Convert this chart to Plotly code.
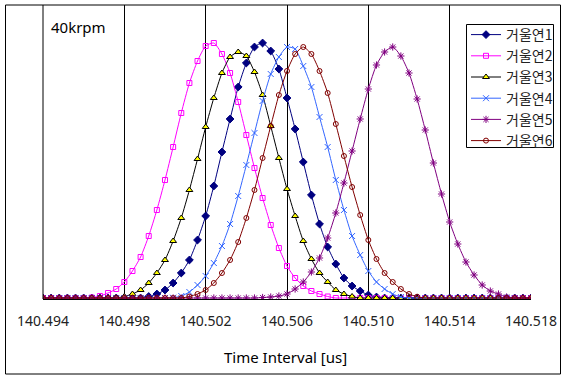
import plotly.graph_objects as go

# x positions (us): 140.494 .. 140.518 in steps of 0.0004
x_start = 140.494
x_step = 0.0004
n_points = 61
time_us = [round(x_start + i * x_step, 4) for i in range(n_points)]

tick_vals = [140.494, 140.498, 140.502, 140.506, 140.510, 140.514, 140.518]
tick_text = ["140.494", "140.498", "140.502", "140.506", "140.510", "140.514", "140.518"]

names = ["거울연1", "거울연2", "거울연3", "거울연4", "거울연5", "거울연6"]

s1 = [0]*13 + [1.5, 4, 8, 15, 25, 38, 58, 82, 112, 146, 179, 211, 235, 251, 255, 247, 229,
               200, 169, 136, 103, 74, 51, 34, 20, 12, 7, 3, 1] + [0]*19
s2 = [0]*6 + [0.5, 2, 5, 9, 16, 27, 41, 62, 88, 118, 151, 185, 215, 237, 252, 255, 244, 225,
              196, 163, 130, 100, 73, 50, 32, 20, 12, 7, 4, 1.5] + [0]*25
s3 = [0]*10 + [1.5, 4, 8, 15, 25, 38, 57, 80, 108, 139, 171, 200, 225, 241, 246, 242, 226, 203,
               172, 140, 109, 82, 57, 39, 25, 16, 8, 4, 1.5] + [0]*22
s4 = [0]*16 + [0.3, 2, 6, 13, 22, 35, 52, 74, 102, 133, 165, 197, 224, 241, 251, 249, 232, 211,
               181, 151, 118, 88, 62, 43, 27, 16, 9, 4, 1] + [0]*16
s5 = [0]*27 + [0.5, 1, 2, 4, 9, 16, 26, 40, 60, 85, 115, 147, 179, 209, 233, 246, 251, 242, 225,
               199, 168, 135, 104, 76, 54, 36, 23, 13, 7, 4, 1] + [0]*3
s6 = [0]*18 + [1.5, 4, 8, 15, 25, 38, 56, 80, 108, 140, 172, 203, 227, 244, 251, 244, 227, 205,
               174, 142, 111, 83, 58, 39, 25, 16, 9, 4, 1.3] + [0]*14
series = [s1, s2, s3, s4, s5, s6]

line_colors = ["#000080", "#FF00FF", "#000000", "#3366FF", "#800080", "#800000"]
marker_symbols = ["diamond", "square-open", "triangle-up", "x-thin-open", "asterisk-open", "circle-open"]
marker_fills = ["#000080", "#FF00FF", "#FFFF00", "#3366FF", "#800080", "#800000"]
marker_lines = ["#000080", "#FF00FF", "#000000", "#3366FF", "#800080", "#800000"]
marker_sizes = [6, 5, 6, 6, 6, 5]

fig = go.Figure()
for k in range(6):
    fig.add_trace(go.Scatter(
        x=time_us, y=series[k], name=names[k], mode="lines+markers",
        line=dict(color=line_colors[k], width=1, shape="spline", smoothing=0.6),
        marker=dict(symbol=marker_symbols[k], size=marker_sizes[k], color=marker_fills[k],
                    line=dict(color=marker_lines[k], width=1)),
    ))

W, H = 567, 380
ml, mr, mt, mb = 43, 36, 5, 81
pw, ph = W - ml - mr, H - mt - mb

def px(xpix):
    return (xpix - ml) / pw

def py(ypix):
    return (H - mb - ypix) / ph

fig.update_layout(
    width=W, height=H,
    margin=dict(l=ml, r=mr, t=mt, b=mb, pad=0),
    paper_bgcolor="white", plot_bgcolor="white",
    font=dict(family="Noto Sans, Noto Sans CJK KR", size=13, color="#222222"),
    showlegend=True,
    legend=dict(x=px(466), y=py(19), xanchor="left", yanchor="top",
                bgcolor="rgba(0,0,0,0)", borderwidth=0,
                font=dict(family="Noto Sans CJK KR", size=14, color="#222222"),
                itemwidth=30, tracegroupgap=0),
    xaxis=dict(range=[140.494, 140.518], tickvals=tick_vals, ticktext=tick_text,
               showgrid=True, gridcolor="black", gridwidth=1,
               showline=True, linecolor="black", linewidth=1,
               ticks="", ticklabelstandoff=9, zeroline=False,
               tickfont=dict(size=14, color="#222222")),
    yaxis=dict(range=[-1, 293], showticklabels=False, showgrid=False,
               zeroline=False, showline=False, ticks=""),
    annotations=[
        dict(text="40krpm", x=px(49), y=py(27), xref="paper", yref="paper",
             xanchor="left", yanchor="middle", showarrow=False,
             font=dict(size=15, color="black")),
        dict(text="Time Interval [us]", x=px(285), y=py(357), xref="paper", yref="paper",
             xanchor="center", yanchor="middle", showarrow=False,
             font=dict(size=15, color="black")),
    ],
    shapes=[
        dict(type="rect", xref="paper", yref="paper",
             x0=px(5.5), x1=px(560.5), y0=py(374), y1=py(5),
             line=dict(color="black", width=1), layer="below"),
        dict(type="line", xref="paper", yref="paper",
             x0=0, x1=0, y0=0, y1=1, line=dict(color="black", width=1)),
        dict(type="rect", xref="paper", yref="paper",
             x0=px(466.5), x1=px(553.5), y0=py(147.5), y1=py(24.5),
             fillcolor="white", line=dict(color="black", width=1), layer="above"),
    ],
)

fig.write_html("out.html", config={"displayModeBar": False},
               post_script="document.body.style.margin='0';document.body.style.overflow='hidden';")
